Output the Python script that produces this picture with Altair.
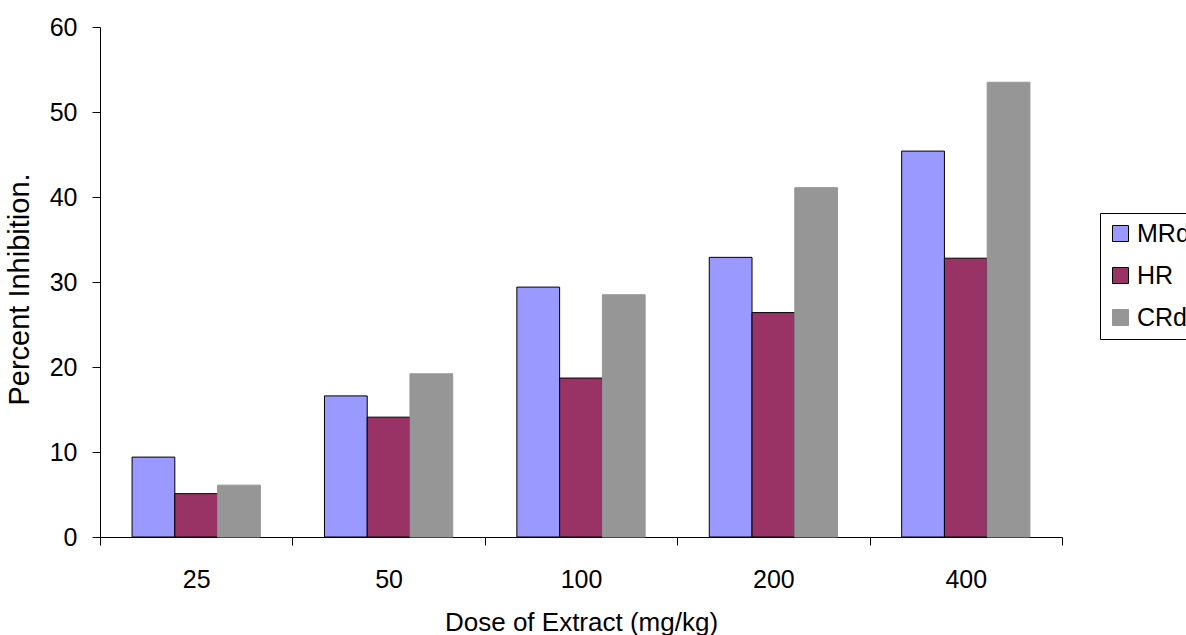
import altair as alt
import pandas as pd

doses = ["25", "50", "100", "200", "400"]
series = ["MRd", "HR", "CRd"]
mrd = [9.4, 16.6, 29.4, 32.9, 45.4]
hr = [5.1, 14.1, 18.7, 26.4, 32.8]
crd = [6.1, 19.2, 28.5, 41.1, 53.5]
fills = ["#9999FF", "#993366", "#969696"]
strokes = ["#000000", "#000000", "#969696"]
y_ticks = [0, 10, 20, 30, 40, 50, 60]

rows = []
for s, vals in zip(series, [mrd, hr, crd]):
    for d, v in zip(doses, vals):
        rows.append({"dose": d, "series": s, "value": v})
df = pd.DataFrame(rows)

FONT = "Liberation Sans"

legend = alt.Legend(
    title=None, orient="none", legendX=1000, legendY=186,
    fillColor="white", strokeColor="black", padding=8,
    symbolType="square", symbolSize=256, symbolStrokeWidth=1,
    labelFont=FONT, labelFontSize=25, labelColor="black",
    labelOffset=4, rowPadding=16, labelLimit=0,
)

chart = alt.Chart(df).mark_bar(strokeWidth=1).encode(
    x=alt.X(
        "dose:N", sort=doses,
        scale=alt.Scale(paddingInner=0, paddingOuter=0),
        axis=alt.Axis(
            title="Dose of Extract (mg/kg)", labelAngle=0, tickBand="extent",
            tickSize=8, labelPadding=22, labelFont=FONT, labelFontSize=25,
            labelColor="black", titleFont=FONT, titleFontSize=26,
            titleFontWeight="normal", titleColor="black",
            titleY=93, titleBaseline="alphabetic",
            domainColor="black", tickColor="black",
        ),
    ),
    xOffset=alt.XOffset(
        "series:N", sort=series,
        scale=alt.Scale(paddingInner=0, paddingOuter=0.75),
    ),
    y=alt.Y(
        "value:Q",
        scale=alt.Scale(domain=[0, 60], nice=False),
        axis=alt.Axis(
            title="Percent Inhibition.", values=y_ticks, grid=False,
            tickSize=8, labelPadding=15, labelFont=FONT, labelFontSize=25,
            labelColor="black", titleFont=FONT, titleFontSize=29,
            titleFontWeight="normal", titleColor="black",
            titleX=-72, titleY=262, titleBaseline="alphabetic",
            titleAlign="center", titleAngle=270,
            domainColor="black", tickColor="black",
        ),
    ),
    color=alt.Color("series:N", sort=series,
                    scale=alt.Scale(domain=series, range=fills), legend=legend),
    stroke=alt.Stroke("series:N", sort=series,
                      scale=alt.Scale(domain=series, range=strokes), legend=legend),
).properties(
    width=962, height=510,
    autosize=alt.AutoSizeParams(type="none"),
    padding={"left": 100, "top": 27, "right": 124, "bottom": 98},
    background="white",
).configure_view(stroke=None)

chart.save("out.html", embed_options={"renderer": "svg", "actions": False})
